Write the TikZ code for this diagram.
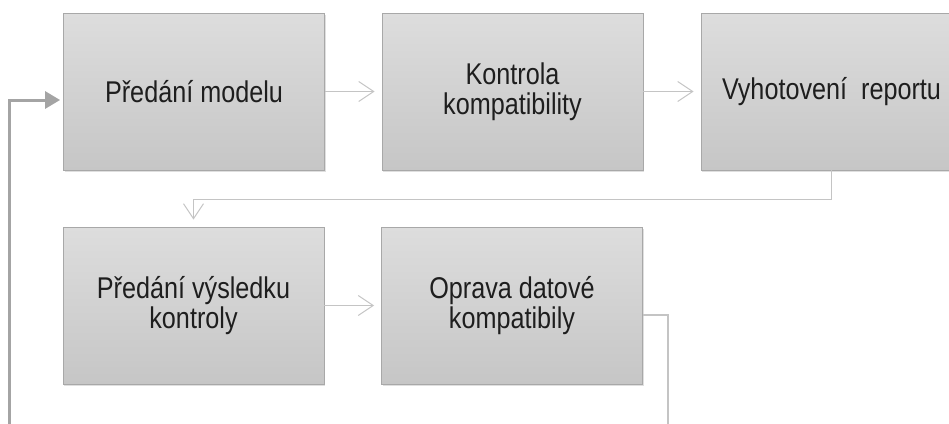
\documentclass[tikz,border=0pt]{standalone}
\usepackage{fontspec}
\setmainfont{Liberation Sans}[FakeStretch=0.84]
\usetikzlibrary{arrows.meta,shadows}
\definecolor{boxtop}{HTML}{DDDDDD}
\definecolor{boxbot}{HTML}{C6C6C6}
\definecolor{boxline}{HTML}{A8A8A8}
\definecolor{flowline}{HTML}{C4C4C4}
\definecolor{loopline}{HTML}{A4A4A4}
\definecolor{txt}{HTML}{1E1E1E}
\tikzset{
  stepbox/.style={draw=boxline, line width=0.8pt, top color=boxtop, bottom color=boxbot,
    minimum width=261pt, minimum height=157pt, inner sep=0pt, align=center,
    text=txt, font=\fontsize{30}{30.5}\selectfont,
    drop shadow={shadow xshift=1pt, shadow yshift=-1.5pt, opacity=0.25}},
  flow/.style={draw=flowline, line width=1pt, -{Straight Barb[length=15pt,width=20pt,line width=1pt]}, shorten >=7pt},
  plain/.style={draw=flowline, line width=1.2pt},
  loop/.style={draw=loopline, line width=3pt, -{Triangle[length=15pt,width=17pt]}, shorten >=3pt}
}
\begin{document}
\begin{tikzpicture}[x=1pt,y=-1pt]
\useasboundingbox (0,0) rectangle (949,423);
\clip (0,0) rectangle (949,423);
\fill[white] (0,0) rectangle (949,423);
\node[stepbox] (b1) at (194,91.5) {Předání modelu};
\node[stepbox] (b2) at (512.5,91.5) {Kontrola\\kompatibility};
\node[stepbox] (b3) at (831.5,91.5) {Vyhotovení\ \ reportu};
\node[stepbox] (b4) at (193.5,305.5) {Předání výsledku\\kontroly};
\node[stepbox] (b5) at (512,305.5) {Oprava datové\\kompatibily};
\coordinate (out) at (668,440);
\coordinate (in) at (9,440);
\draw[flow] (b1) -- (b2);
\draw[flow] (b2) -- (b3);
\draw[flow] (b4) -- (b5);
\draw[flow] (b3.south) -- ++(0,29) -| (b4.north);
\draw[plain] ([yshift=-9.5pt]b5.east) -| (out);
\draw[loop] (in) |- ([yshift=-8.5pt]b1.west);
\end{tikzpicture}
\end{document}
